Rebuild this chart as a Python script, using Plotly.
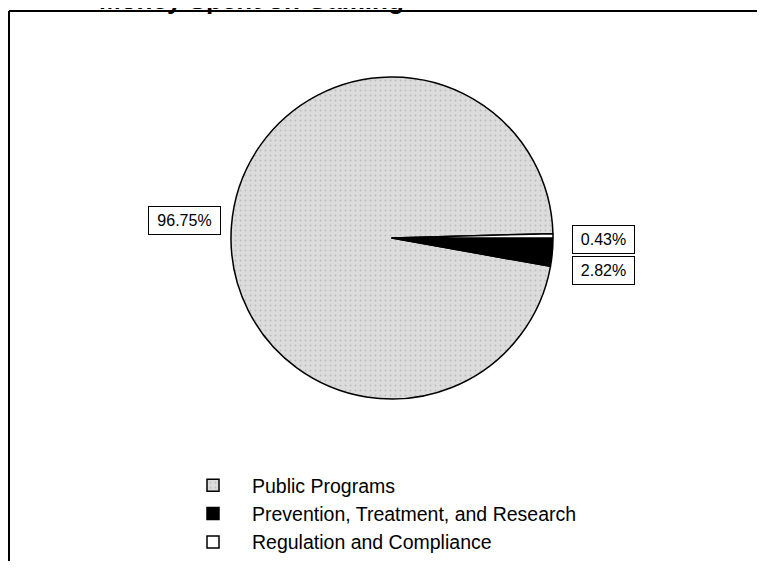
import plotly.graph_objects as go

# ---- data ----
categories = ["Public Programs", "Prevention, Treatment, and Research", "Regulation and Compliance"]
shares = [96.75, 2.82, 0.43]
label_texts = ["96.75%", "2.82%", "0.43%"]
title_text = "Money Spent on Gaming"

# the page body has an 8px margin, so the figure is 16px smaller than the window
OFF = 8
W, H = 765 - 2 * OFF, 569 - 2 * OFF
FONT = "Liberation Sans, Arial, sans-serif"

def px(x):
    """reference-page pixel x -> paper fraction"""
    return (x - OFF) / W

def py(y):
    """reference-page pixel y -> paper fraction"""
    return 1 - (y - OFF) / H

# pie geometry (reference-page pixels)
cx, cy, r = 392, 238, 161

colors = ["#dcdcdc", "#000000", "#ffffff"]

# counterclockwise: the first slice ends at `rotation`, later slices go on from there;
# put the black slice just below 3 o'clock
rotation = 90 + shares[1] / 100 * 360

fig = go.Figure()
fig.add_trace(go.Pie(
    labels=categories,
    values=shares,
    sort=False,
    direction="counterclockwise",
    rotation=rotation,
    textinfo="none",
    hoverinfo="label+percent",
    marker=dict(
        colors=colors,
        line=dict(color="#000000", width=1.5),
        pattern=dict(shape=[".", "", ""], fgcolor="#9a9a9a", bgcolor=colors,
                     size=5, solidity=0.12, fillmode="overlay"),
    ),
    domain=dict(x=[px(cx - r), px(cx + r)], y=[py(cy + r), py(cy - r)]),
    showlegend=True,
))

# percentage labels in boxes: (center x, center y, text width)
label_pos = [(184, 220, 65), (603, 270, 55), (603, 239, 55)]
for txt, (lx, ly, tw) in zip(label_texts, label_pos):
    fig.add_annotation(
        x=px(lx), y=py(ly), xref="paper", yref="paper",
        text=txt, showarrow=False, width=tw, height=21, align="center",
        font=dict(family=FONT, size=16, color="#000000"),
        bordercolor="#000000", borderwidth=1, borderpad=3,
        bgcolor="#ffffff", xanchor="center", yanchor="middle",
    )

# title, cut off at the very top as in the scanned original
fig.add_annotation(
    x=px(97), y=py(0), xref="paper", yref="paper",
    text="<b>" + title_text + "</b>", showarrow=False,
    font=dict(family=FONT, size=26, color="#000000"),
    xanchor="left", yanchor="middle",
)

# frame lines (top and left)
fig.add_shape(type="line", xref="paper", yref="paper",
              x0=px(9), y0=py(11), x1=1, y1=py(11),
              line=dict(color="#000000", width=2))
fig.add_shape(type="line", xref="paper", yref="paper",
              x0=px(9), y0=py(11), x1=px(9), y1=0,
              line=dict(color="#000000", width=2))

fig.update_layout(
    width=W, height=H,
    margin=dict(l=0, r=0, t=0, b=0, autoexpand=False),
    paper_bgcolor="#ffffff",
    plot_bgcolor="#ffffff",
    font=dict(family=FONT, size=19.5, color="#000000"),
    legend=dict(
        x=px(174), y=py(466), xanchor="left", yanchor="top",
        font=dict(family=FONT, size=19.5, color="#000000"),
        bgcolor="rgba(0,0,0,0)", itemwidth=68, traceorder="normal",
    ),
)

fig.write_html("out.html")
